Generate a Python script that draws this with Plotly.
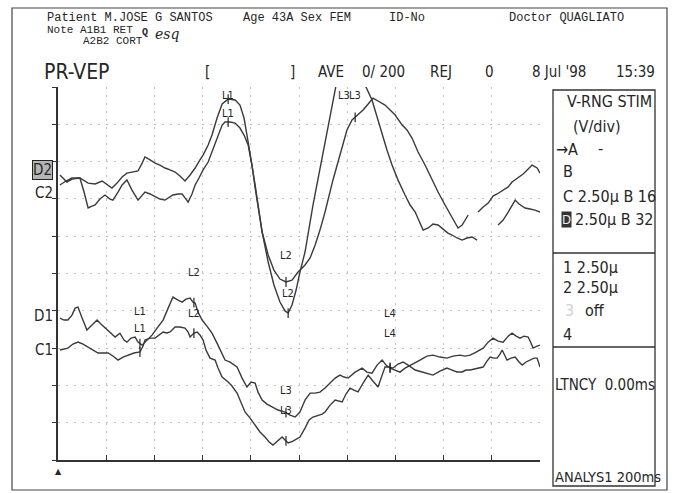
import numpy as np
import plotly.graph_objects as go

W, H = 688, 493

# ---- recorded waveforms: latency (ms) and amplitude (uV, relative to channel baseline)
d2_ms = [0.8, 3.7, 5.8, 9.1, 12.5, 15.4, 18.3, 20.8, 22.4, 24.5, 26.6, 28.6, 30.7, 33.2, 34.9,
         36.1, 38.2, 40.3, 42.3, 44.4, 46.5, 48.6, 50.6, 52.7, 54.8, 56.9, 58.9, 60.2, 62.3,
         63.9, 66.0, 68.1, 70.6, 73.5, 75.5, 77.2, 78.9, 80.5, 81.8, 84.7, 87.2, 89.6, 92.1,
         94.2, 95.5, 97.1, 98.8, 100.4, 102.5, 105.8, 109.6, 112.9, 115.4, 117.9, 121.2, 124.5,
         127.4, 130.3, 132.4, 134.5, 136.5, 138.6, 141.1, 144.0, 146.1, 148.2, 150.2, 151.5,
         153.6, 155.6, 157.7, 159.8, 161.8, 163.5, 165.6, 167.7, 169.7, 171.8, 173.9, None,
         182.6, 184.7, 186.8, 188.4, 189.7, 191.3, 193.8, 195.9, 197.9, 200.0]
d2_uv = [0.0, -0.47, -0.27, -0.20, -0.54, -0.60, -0.40, -0.67, -0.87, -0.54, -0.13, 0.13, 0.20,
         0.27, 0.80, 1.21, 1.01, 0.80, 0.67, 0.47, 0.34, 0.20, -0.07, -0.40, 0.0, 0.47, 1.01,
         1.34, 2.01, 2.68, 3.82, 4.76, 5.09, 5.03, 4.69, 3.82, 2.21, 0.67, -0.67, -3.82, -5.83,
         -7.37, -8.51, -9.11, -9.25, -8.71, -7.71, -6.50, -5.16, -2.01, 1.14, 4.02, 6.03, 7.04,
         7.57, 7.04, 6.03, 5.03, 3.89, 2.68, 1.68, 0.67, -0.34, -1.34, -2.01, -2.48, -3.15,
         -3.69, -3.55, -3.28, -3.35, -3.62, -3.89, -4.02, -4.22, -4.36, -4.22, -4.15, -4.36,
         None, -3.35, -3.02, -2.48, -2.01, -1.68, -1.94, -2.21, -2.28, -2.35, -2.48]

c2_ms = [0.8, 3.3, 5.8, 9.1, 10.8, 12.5, 14.1, 15.4, 17.4, 19.5, 21.6, 22.8, 24.9, 26.6, 28.6,
         30.7, 33.2, 34.9, 36.1, 38.2, 40.3, 42.3, 44.4, 46.5, 47.7, 49.8, 51.5, 53.1, 54.0,
         55.6, 56.9, 58.5, 60.2, 62.3, 63.9, 66.0, 68.1, 69.3, 71.4, 73.5, 75.5, 77.2, 78.9,
         80.5, 81.8, 84.7, 87.2, 89.6, 92.1, 94.6, 97.1, 99.6, 102.5, 104.6, 106.7, 108.7,
         110.8, 114.1, 117.0, 119.9, 122.0, 124.5, 126.6, 128.7, 130.7, 132.8, 135.7, 137.8,
         139.9, 142.8, 144.8, 146.9, 149.4, 152.3, 155.2, 157.7, 160.6, 163.5, 166.0, 167.7,
         170.2, None, 174.3, 176.4, 178.5, 180.5, 182.2, 184.7, 186.8, 188.4, 190.9, 193.0,
         195.1, 196.7, 198.8, 200.0]
c2_uv = [0.0, 0.27, 0.47, 0.47, -0.47, -1.54, -1.41, -1.34, -0.94, -0.67, -0.94, -1.01, -0.47,
         0.0, 0.34, -0.34, -1.01, -0.67, -0.47, -0.60, -0.80, -0.94, -1.01, -0.80, -0.67,
         -0.60, -0.60, -0.94, -1.14, -0.60, 0.0, 0.47, 1.01, 1.54, 2.21, 3.15, 4.02, 4.22, 4.22,
         4.15, 3.82, 3.35, 2.68, 1.34, -0.20, -3.15, -4.69, -5.70, -6.30, -6.50, -6.37, -5.83,
         -5.36, -4.89, -4.02, -3.02, -1.81, 0.34, 2.01, 3.69, 4.36, 4.69, 5.03, 5.43, 5.83,
         5.63, 5.36, 5.03, 4.69, 4.02, 3.69, 3.15, 2.21, 1.34, 0.34, -0.47, -1.34, -2.21,
         -2.88, -2.68, -2.01, None, -1.81, -1.47, -1.21, -0.74, -0.60, -0.34, -0.13, 0.20,
         0.47, 0.74, 1.07, 1.34, 1.14, 0.80]

d1_ms = [0.8, 2.5, 4.1, 5.8, 7.1, 8.3, 10.0, 12.0, 14.1, 16.2, 17.8, 19.5, 21.6, 23.7, 25.7,
         27.4, 28.6, 30.3, 32.0, 33.2, 34.9, 36.9, 39.0, 41.1, 43.6, 45.7, 47.7, 49.8, 51.5,
         53.1, 54.8, 56.0, 56.9, 58.1, 59.8, 61.8, 63.9, 66.4, 69.3, 71.4, 74.3, 76.4, 78.4,
         80.1, 81.8, 83.0, 84.7, 86.7, 88.8, 91.3, 94.2, 96.3, 98.4, 100.4, 102.5, 104.6,
         106.7, 108.7, 110.8, 112.9, 115.0, 117.0, 118.7, 120.4, 123.3, 126.2, 128.2, 130.3,
         132.4, 134.5, 136.1, 137.8, 139.9, 141.9, 144.0, 146.1, 148.2, 150.2, 153.1, 155.6,
         158.5, 161.4, 163.9, 166.8, 168.9, 171.0, 173.5, 176.4, 178.5, 180.5, 182.6, 184.7,
         186.8, 188.4, 190.1, 191.7, 193.4, 195.1, 196.3, 197.1, 198.8, 200.0]
d1_uv = [0.0, -0.13, -0.13, 0.20, 0.67, 0.74, 0.0, -0.80, -0.47, -0.13, -0.40, -0.67, -0.94,
         -1.27, -1.01, -1.47, -1.61, -1.34, -1.27, -1.61, -1.81, -1.47, -1.14, -0.67, -0.13,
         0.67, 1.41, 1.21, 1.07, 1.27, 1.34, 1.07, 1.01, 0.40, -0.13, -0.54, -1.01, -1.81,
         -2.81, -2.95, -3.28, -4.02, -4.62, -4.29, -4.36, -4.96, -5.49, -5.76, -5.96, -6.16,
         -6.30, -6.50, -6.63, -6.30, -5.49, -5.03, -5.03, -4.96, -4.69, -4.36, -4.02, -3.82,
         -3.95, -4.02, -3.62, -3.35, -3.62, -3.69, -3.15, -2.81, -3.15, -3.35, -3.48, -3.62,
         -3.35, -3.15, -2.95, -2.81, -2.55, -2.48, -2.61, -2.68, -2.55, -2.48, -2.55, -2.48,
         -2.28, -2.01, -1.61, -1.34, -1.54, -1.61, -1.21, -1.01, -1.21, -1.34, -1.21, -1.27,
         -1.68, -2.01, -1.88, -1.81]

c1_ms = [0.8, 2.5, 4.1, 6.2, 8.3, 10.4, 12.5, 14.5, 16.6, 18.7, 20.8, 22.8, 24.9, 27.0, 29.1,
         31.5, 34.0, 35.3, 36.1, 38.2, 40.3, 41.9, 43.6, 45.2, 46.5, 48.6, 50.6, 52.7, 54.0,
         54.8, 56.4, 57.7, 58.9, 60.2, 61.4, 63.1, 65.2, 66.4, 68.1, 70.6, 72.2, 74.3, 75.9,
         77.6, 79.7, 81.8, 83.8, 85.9, 87.6, 89.2, 90.9, 93.0, 94.2, 95.5, 97.5, 99.2, 100.4,
         102.5, 104.2, 105.8, 107.9, 109.6, 110.8, 112.9, 115.0, 117.0, 117.9, 119.5, 121.2,
         122.8, 124.5, 126.6, 128.7, 130.3, 132.8, 134.5, 135.7, 137.4, 139.0, 141.1, 143.2,
         145.3, 148.2, 151.1, 153.6, 155.6, 158.5, 161.4, 163.5, 165.6, 167.7, 169.3, 171.0,
         173.5, 176.4, 178.0, 179.3, 180.9, 182.2, 183.4, 184.3, 185.5, 186.3, 188.0, 189.7,
         191.3, 192.6, 194.2, 195.9, 197.5, 198.8, 200.0]
c1_uv = [0.0, 0.07, 0.13, 0.40, 0.54, 0.40, 0.20, 0.0, -0.20, -0.20, -0.20, -0.40, -0.67,
         -0.47, -0.34, -0.20, -0.13, 0.27, 0.67, 0.80, 0.80, 1.01, 1.21, 1.14, 1.21, 1.54,
         1.54, 1.47, 1.21, 0.87, 1.14, 1.21, 1.01, 0.67, 0.0, -0.54, -0.67, -1.21, -1.81,
         -2.14, -2.41, -2.88, -3.48, -4.15, -4.56, -5.03, -5.49, -5.83, -6.16, -6.37, -6.10,
         -5.83, -6.03, -6.23, -6.10, -5.96, -5.83, -5.23, -4.69, -4.49, -4.36, -4.29, -4.15,
         -3.69, -3.35, -3.42, -3.48, -2.95, -2.55, -2.68, -2.81, -2.21, -1.68, -2.01, -2.48,
         -1.68, -1.14, -1.14, -1.21, -0.94, -0.80, -1.01, -1.34, -1.47, -1.61, -1.68, -1.41,
         -1.21, -1.34, -1.47, -1.47, -1.34, -1.34, -1.27, -1.14, -0.74, -0.47, -0.54, -0.54,
         -0.27, 0.0, -0.40, -0.67, -0.54, -0.47, -0.80, -1.01, -0.80, -0.67, -0.54, -0.54,
         -1.14]

# channel name, baseline position on the 0-25 uV display (2.5 uV/div)
channel_names = ["D2", "C2", "D1", "C1"]
channel_base = [19.10, 18.43, 9.51, 7.37]
channel_label_y = [19.43, 17.89, 9.65, 7.37]

# latency cursors per channel: names, latency (ms) and label height on the display
cursor_names = {"D2": ["L1", "L2", "L3"], "C2": ["L1", "L2", "L3"],
                "D1": ["L1", "L2", "L3", "L4"], "C1": ["L1", "L2", "L3", "L4"]}
cursor_ms = {"D2": [70.6, 95.5, 118.7], "C2": [70.6, 94.6, 123.3],
             "D1": [34.0, 56.4, 94.6, 137.8], "C1": [34.0, 56.4, 94.6, 137.8]}
cursor_label_y = {"D2": [24.46, 11.19, 24.46], "C2": [23.25, 13.74, 24.46],
                  "D1": [9.92, 12.60, 4.69, 9.85], "C1": [8.84, 9.85, 3.35, 8.51]}

series = {"D2": (d2_ms, d2_uv), "C2": (c2_ms, c2_uv), "D1": (d1_ms, d1_uv), "C1": (c1_ms, c1_uv)}

TRACE = "#3a3a3a"
INK = "#262626"
COND = "DejaVu Sans Condensed, Liberation Sans Narrow, DejaVu Sans, sans-serif"
MONO = "Liberation Mono, DejaVu Sans Mono, monospace"


def px(x):
    return x / W


def py(y):
    return 1 - y / H


fig = go.Figure()

for name, base in zip(channel_names, channel_base):
    ms, uv = series[name]
    y = [None if v is None else base + v for v in uv]
    fig.add_trace(go.Scatter(x=ms, y=y, mode="lines", name=name, showlegend=False,
                             hoverinfo="skip", line=dict(color=TRACE, width=1.4)))

    # cursor ticks sit on the waveform itself
    valid = [(m, v) for m, v in zip(ms, uv) if m is not None and v is not None]
    vm = np.array([p[0] for p in valid])
    vv = np.array([p[1] for p in valid])
    lat = cursor_ms[name]
    ty = [base + float(np.interp(t, vm, vv)) for t in lat]
    fig.add_trace(go.Scatter(x=lat, y=ty, mode="markers", showlegend=False, hoverinfo="skip",
                             marker=dict(symbol="line-ns", size=7,
                                         line=dict(color=INK, width=1.2))))
    for lab, t, ly in zip(cursor_names[name], lat, cursor_label_y[name]):
        fig.add_annotation(x=t, y=ly, xref="x", yref="y", text=lab, showarrow=False,
                           font=dict(family=COND, size=11, color=INK))

# channel labels at the left of the traces
for name, ly in zip(channel_names, channel_label_y):
    boxed = name == "D2"
    fig.add_annotation(x=px(53), y=ly, xref="paper", yref="y", text=name, showarrow=False,
                       xanchor="right", font=dict(family=COND, size=15, color=INK),
                       bgcolor="#b5b5b5" if boxed else None,
                       bordercolor="#222" if boxed else None,
                       borderwidth=1 if boxed else 0, borderpad=0)


def txt(x, y, s, size=11, family=MONO, anchor="left", color=INK, **kw):
    fig.add_annotation(x=px(x), y=py(y), xref="paper", yref="paper", text=s,
                       showarrow=False, xanchor=anchor, yanchor="middle",
                       font=dict(family=family, size=size, color=color), **kw)


# patient header
txt(45, 18, "Patient M.JOSE G SANTOS", 12)
txt(241, 18, "Age 43A Sex FEM", 12)
txt(387, 18, "ID-No", 12)
txt(507, 18, "Doctor QUAGLIATO", 12)
txt(45, 30, "Note A1B1 RET", 11)
txt(140, 32, "<b>Q</b>", 10)
txt(153, 34, "<i>esq</i>", 14, family="DejaVu Serif, serif")
txt(81, 41, "A2B2 CORT", 11)

# acquisition status line
txt(42, 72, "PR-VEP", 21, family=COND)
txt(203, 72, "[", 15, family=COND)
txt(288, 72, "]", 15, family=COND)
txt(316, 72, "AVE", 15, family=COND)
txt(360, 72, "0/ 200", 15, family=COND)
txt(428, 72, "REJ", 15, family=COND)
txt(483, 72, "0", 15, family=COND)
txt(530, 72, "8 Jul '98", 15, family=COND)
txt(614, 72, "15:39", 15, family=COND)

# settings panel
txt(565, 101, "V-RNG STIM", 16, family=COND)
txt(571, 127, "(V/div)", 16, family=COND)
txt(554, 150, "→A", 16, family=COND)
txt(596, 148, "-", 16, family=COND)
txt(561, 172, "B", 16, family=COND)
txt(561, 196, "C 2.50μ B 16", 16, family=COND)
txt(561, 219, "D", 13, family=COND, color="#eeeeee", bgcolor="#333333", borderpad=0)
txt(573, 219, "2.50μ B 32", 16, family=COND)
txt(561, 267, "1 2.50μ", 16, family=COND)
txt(561, 287, "2 2.50μ", 16, family=COND)
txt(563, 310, "3", 16, family=COND, color="#d0d0d0")
txt(583, 310, "off", 16, family=COND)
txt(561, 334, "4", 16, family=COND)
txt(553, 385, "LTNCY  0.00ms", 15, family=COND)
txt(553, 477, "ANALYS1 200ms", 14.5, family=COND)

# stimulus onset mark under the time axis
txt(58, 471, "▲", 8, family="DejaVu Sans", anchor="center")

line = dict(color="#333333", width=1.3)
fig.add_shape(type="rect", xref="paper", yref="paper", x0=px(12), x1=px(667),
              y0=py(490), y1=py(8), line=dict(color="#444444", width=1.2))
fig.add_shape(type="rect", xref="paper", yref="paper", x0=px(553), x1=px(655),
              y0=py(486), y1=py(90), line=line)
for yy in (253, 347):
    fig.add_shape(type="line", xref="paper", yref="paper", x0=px(553), x1=px(655),
                  y0=py(yy), y1=py(yy), line=line)

fig.update_layout(
    width=W, height=H, autosize=False,
    margin=dict(l=0, r=0, t=0, b=0),
    paper_bgcolor="white", plot_bgcolor="white",
    xaxis=dict(domain=[px(58), px(540)], range=[0, 200], dtick=20, tick0=0,
               showgrid=True, gridcolor="#c4c4c4", griddash="2px,6px", gridwidth=1,
               showline=True, linecolor="#333333", linewidth=1.6, zeroline=False,
               ticks="inside", ticklen=5, tickcolor="#333333", showticklabels=False),
    yaxis=dict(domain=[py(460), py(87)], range=[0, 25], dtick=2.5, tick0=0,
               showgrid=True, gridcolor="#c4c4c4", griddash="2px,6px", gridwidth=1,
               showline=True, linecolor="#333333", linewidth=1.6, zeroline=False,
               ticks="outside", ticklen=4, tickcolor="#333333", showticklabels=False),
)

fig.write_html("out.html")
